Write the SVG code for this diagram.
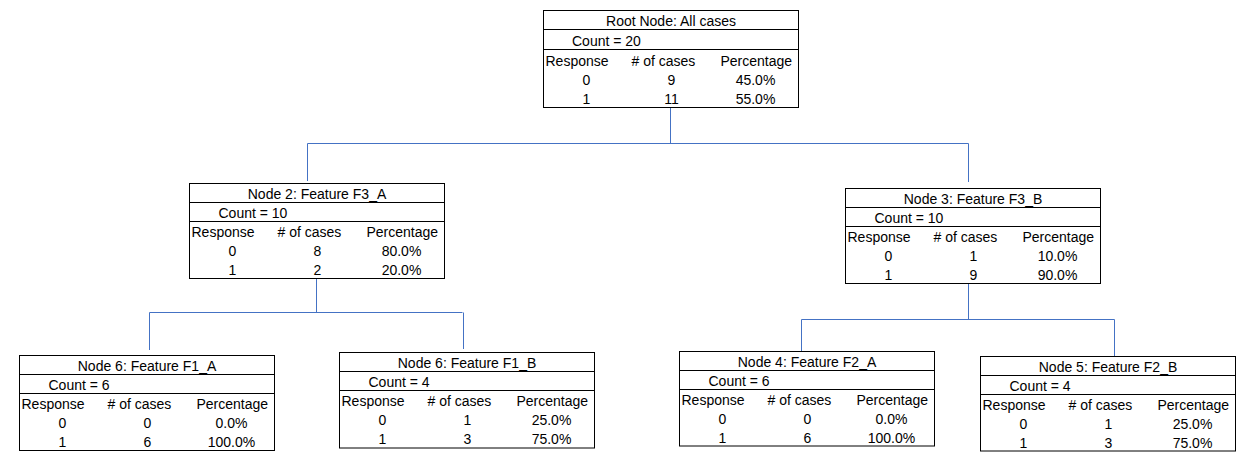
<svg xmlns="http://www.w3.org/2000/svg" width="1252" height="472" viewBox="0 0 1252 472">
<style>
text{font-family:"Liberation Sans",Arial,sans-serif;font-size:14px;fill:#000}
.m{text-anchor:middle}
.box{fill:#fff;stroke:#000;stroke-width:1}
.sep{stroke:#000;stroke-width:1}
.conn{fill:none;stroke:#4472C4;stroke-width:1}
</style>
<rect width="1252" height="472" fill="#fff"/>
<g id="connectors" class="conn">
<path d="M670.5,107 V143.5 M307.5,143.5 H968.5 M307.5,143.5 V181 M968.5,143.5 V182"/>
<path d="M316.5,278 V312.5 M149.5,312.5 H462.5 M149.5,312.5 V350 M463.5,312.5 V349"/>
<path d="M968.5,283 V319.5 M801.5,319.5 H1114.5 M801.5,319.5 V357 M1114.5,319.5 V356"/>
</g>
<g id="root" transform="translate(543.5,10.5)">
<rect class="box" width="255" height="97"/>
<path class="sep" d="M0,19 H255 M0,39 H255"/>
<text class="m" x="127.5" y="15.5">Root Node: All cases</text>
<text x="28.5" y="35">Count = 20</text>
<text x="2" y="55.5">Response</text><text x="88" y="55.5"># of cases</text><text x="177" y="55.5">Percentage</text>
<text class="m" x="43" y="74.5">0</text><text class="m" x="128" y="74.5">9</text><text class="m" x="212" y="74.5">45.0%</text>
<text class="m" x="43" y="93.5">1</text><text class="m" x="128" y="93.5">11</text><text class="m" x="212" y="93.5">55.0%</text>
</g>
<g id="node2" transform="translate(189.5,183.5)">
<rect class="box" width="255" height="95"/>
<path class="sep" d="M0,19 H255 M0,38 H255"/>
<text class="m" x="127.5" y="15">Node 2: Feature F3_A</text>
<text x="29" y="34.5">Count = 10</text>
<text x="2" y="53.5">Response</text><text x="88" y="53.5"># of cases</text><text x="177" y="53.5">Percentage</text>
<text class="m" x="43" y="72.5">0</text><text class="m" x="128" y="72.5">8</text><text class="m" x="212" y="72.5">80.0%</text>
<text class="m" x="43" y="91">1</text><text class="m" x="128" y="91">2</text><text class="m" x="212" y="91">20.0%</text>
</g>
<g id="node3" transform="translate(845.5,188.5)">
<rect class="box" width="255" height="95"/>
<path class="sep" d="M0,19 H255 M0,38 H255"/>
<text class="m" x="127.5" y="15">Node 3: Feature F3_B</text>
<text x="29" y="34.5">Count = 10</text>
<text x="2" y="53.5">Response</text><text x="88" y="53.5"># of cases</text><text x="177" y="53.5">Percentage</text>
<text class="m" x="43" y="72.5">0</text><text class="m" x="128" y="72.5">1</text><text class="m" x="212" y="72.5">10.0%</text>
<text class="m" x="43" y="91">1</text><text class="m" x="128" y="91">9</text><text class="m" x="212" y="91">90.0%</text>
</g>
<g id="node6a" transform="translate(19.5,355.5)">
<rect class="box" width="255" height="95"/>
<path class="sep" d="M0,19 H255 M0,38 H255"/>
<text class="m" x="127.5" y="15">Node 6: Feature F1_A</text>
<text x="29" y="34.5">Count = 6</text>
<text x="2" y="53.5">Response</text><text x="88" y="53.5"># of cases</text><text x="177" y="53.5">Percentage</text>
<text class="m" x="43" y="72.5">0</text><text class="m" x="128" y="72.5">0</text><text class="m" x="212" y="72.5">0.0%</text>
<text class="m" x="43" y="91">1</text><text class="m" x="128" y="91">6</text><text class="m" x="212" y="91">100.0%</text>
</g>
<g id="node6b" transform="translate(339.5,352.5)">
<rect class="box" width="255" height="95.5"/>
<path class="sep" d="M0,19 H255 M0,38 H255"/>
<text class="m" x="127.5" y="15">Node 6: Feature F1_B</text>
<text x="29" y="34.5">Count = 4</text>
<text x="2" y="53.5">Response</text><text x="88" y="53.5"># of cases</text><text x="177" y="53.5">Percentage</text>
<text class="m" x="43" y="72.5">0</text><text class="m" x="128" y="72.5">1</text><text class="m" x="212" y="72.5">25.0%</text>
<text class="m" x="43" y="91">1</text><text class="m" x="128" y="91">3</text><text class="m" x="212" y="91">75.0%</text>
</g>
<g id="node4" transform="translate(679.5,351.5)">
<rect class="box" width="255" height="94.5"/>
<path class="sep" d="M0,19 H255 M0,38 H255"/>
<text class="m" x="127.5" y="15">Node 4: Feature F2_A</text>
<text x="29" y="34.5">Count = 6</text>
<text x="2" y="53.5">Response</text><text x="88" y="53.5"># of cases</text><text x="177" y="53.5">Percentage</text>
<text class="m" x="43" y="72.5">0</text><text class="m" x="128" y="72.5">0</text><text class="m" x="212" y="72.5">0.0%</text>
<text class="m" x="43" y="91">1</text><text class="m" x="128" y="91">6</text><text class="m" x="212" y="91">100.0%</text>
</g>
<g id="node5" transform="translate(980.5,356.5)">
<rect class="box" width="255" height="94.5"/>
<path class="sep" d="M0,19 H255 M0,38 H255"/>
<text class="m" x="127.5" y="15">Node 5: Feature F2_B</text>
<text x="29" y="34.5">Count = 4</text>
<text x="2" y="53.5">Response</text><text x="88" y="53.5"># of cases</text><text x="177" y="53.5">Percentage</text>
<text class="m" x="43" y="72.5">0</text><text class="m" x="128" y="72.5">1</text><text class="m" x="212" y="72.5">25.0%</text>
<text class="m" x="43" y="91">1</text><text class="m" x="128" y="91">3</text><text class="m" x="212" y="91">75.0%</text>
</g>
</svg>
